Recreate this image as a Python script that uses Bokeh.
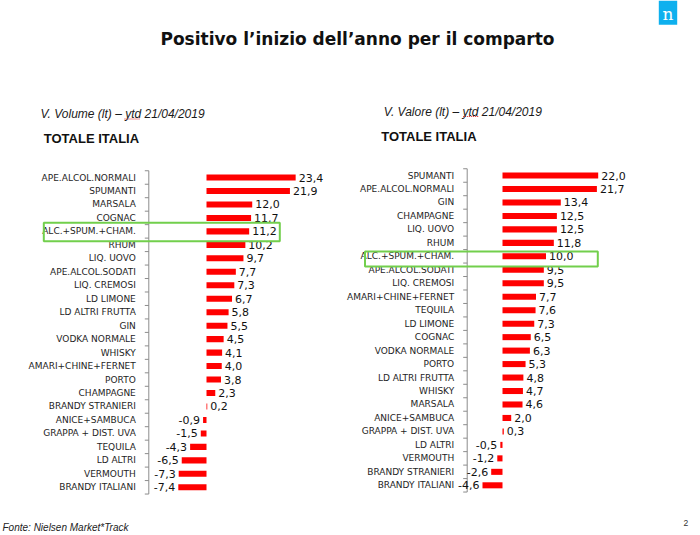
from bokeh.plotting import figure
from bokeh.models import Range1d, ColumnDataSource, Label
from bokeh.core.properties import value
from bokeh.embed import file_html
from bokeh.resources import INLINE

# ---------------- data ----------------
vol_categories = ["APE.ALCOL.NORMALI", "SPUMANTI", "MARSALA", "COGNAC", "ALC.+SPUM.+CHAM.",
                  "RHUM", "LIQ. UOVO", "APE.ALCOL.SODATI", "LIQ. CREMOSI", "LD LIMONE",
                  "LD ALTRI FRUTTA", "GIN", "VODKA NORMALE", "WHISKY", "AMARI+CHINE+FERNET",
                  "PORTO", "CHAMPAGNE", "BRANDY STRANIERI", "ANICE+SAMBUCA",
                  "GRAPPA + DIST. UVA", "TEQUILA", "LD ALTRI", "VERMOUTH", "BRANDY ITALIANI"]
vol_values = [23.4, 21.9, 12.0, 11.7, 11.2, 10.2, 9.7, 7.7, 7.3, 6.7, 5.8, 5.5, 4.5, 4.1,
              4.0, 3.8, 2.3, 0.2, -0.9, -1.5, -4.3, -6.5, -7.3, -7.4]

val_categories = ["SPUMANTI", "APE.ALCOL.NORMALI", "GIN", "CHAMPAGNE", "LIQ. UOVO", "RHUM",
                  "ALC.+SPUM.+CHAM.", "APE.ALCOL.SODATI", "LIQ. CREMOSI", "AMARI+CHINE+FERNET",
                  "TEQUILA", "LD LIMONE", "COGNAC", "VODKA NORMALE", "PORTO", "LD ALTRI FRUTTA",
                  "WHISKY", "MARSALA", "ANICE+SAMBUCA", "GRAPPA + DIST. UVA", "LD ALTRI",
                  "VERMOUTH", "BRANDY STRANIERI", "BRANDY ITALIANI"]
val_values = [22.0, 21.7, 13.4, 12.5, 12.5, 11.8, 10.0, 9.5, 9.5, 7.7, 7.6, 7.3, 6.5, 6.3,
              5.3, 4.8, 4.7, 4.6, 2.0, 0.3, -0.5, -1.2, -2.6, -4.6]

title_text = "Positivo l\u2019inizio dell\u2019anno per il comparto"
vol_subtitle = "V. Volume (lt) \u2013 ytd 21/04/2019"
val_subtitle = "V. Valore (lt) \u2013 ytd 21/04/2019"
panel_heading = "TOTALE ITALIA"
source_note = "Fonte: Nielsen Market*Track"
page_number = "2"

# ---------------- layout / style ----------------
W, H = 700, 535
RED = "#ff0000"
GREEN = "#72cf4c"
AXIS_GREY = "#8c8c8c"
LABEL_FONT = value("DejaVu Sans")

p = figure(width=W, height=H, output_backend="svg", toolbar_location=None,
           x_range=Range1d(0, W), y_range=Range1d(H, 0), min_border=0,
           x_axis_type=None, y_axis_type=None)
p.outline_line_color = None
p.background_fill_color = "white"
p.border_fill_color = "white"

# panel geometry (screen px): zero line, px per unit, first row centre, row step, axis line
panels = {
    "vol": dict(cats=vol_categories, vals=vol_values, zero=206.0, ppu=3.81,
                row0=177.0, step=13.47, axis=148.3),
    "val": dict(cats=val_categories, vals=val_values, zero=502.0, ppu=4.35,
                row0=175.0, step=13.47, axis=466.7),
}

xr, yr = {}, {}
for name, g in panels.items():
    xr[name] = Range1d(-g["zero"] / g["ppu"], (W - g["zero"]) / g["ppu"])
    yr[name] = Range1d((H - g["row0"]) / g["step"], -g["row0"] / g["step"])
p.extra_x_ranges = xr
p.extra_y_ranges = yr

for name, g in panels.items():
    cats, vals = g["cats"], g["vals"]
    n = len(cats)
    idx = list(range(n))
    axis_val = (g["axis"] - g["zero"]) / g["ppu"]
    kw = dict(x_range_name=name, y_range_name=name)

    src = ColumnDataSource(dict(idx=idx, val=vals, cat=cats,
                                lab=[f"{v:.1f}".replace(".", ",") for v in vals]))
    p.hbar(y="idx", left=0, right="val", height=0.45, fill_color=RED,
           line_color=None, source=src, **kw)

    # category axis line + boundary ticks
    p.segment(x0=axis_val, y0=-0.5, x1=axis_val, y1=n - 0.5,
              line_color=AXIS_GREY, line_width=1, **kw)
    bounds = [i - 0.5 for i in range(n + 1)]
    p.segment(x0=axis_val - 4.0 / g["ppu"], y0=bounds, x1=axis_val, y1=bounds,
              line_color=AXIS_GREY, line_width=1, **kw)

    # category labels
    p.text(x=axis_val, y="idx", text="cat", source=src, x_offset=-13,
           text_align="right", text_baseline="middle", text_font=LABEL_FONT,
           text_font_size="9px", text_color="#1e1e1e", **kw)

    # value labels
    pos = ColumnDataSource(dict(
        idx=[i for i, v in zip(idx, vals) if v >= 0],
        val=[v for v in vals if v >= 0],
        lab=[f"{v:.1f}".replace(".", ",") for v in vals if v >= 0]))
    neg = ColumnDataSource(dict(
        idx=[i for i, v in zip(idx, vals) if v < 0],
        val=[v for v in vals if v < 0],
        lab=[f"{v:.1f}".replace(".", ",") for v in vals if v < 0]))
    p.text(x="val", y="idx", text="lab", source=pos, x_offset=3,
           text_align="left", text_baseline="middle", text_font=LABEL_FONT,
           text_font_size="11px", text_color="#111111", **kw)
    p.text(x="val", y="idx", text="lab", source=neg, x_offset=-3,
           text_align="right", text_baseline="middle", text_font=LABEL_FONT,
           text_font_size="11px", text_color="#111111", **kw)

# highlight boxes (page coordinates)
p.quad(left=[43.3, 364.5], right=[279.3, 597.3], top=[222.3, 251.0], bottom=[240.7, 266.0],
       fill_color=None, line_color=GREEN, line_width=2)

# titles and texts
def add_label(x, y, text, size, font="Liberation Sans", style="normal", align="left",
              color="#111111"):
    p.add_layout(Label(x=x, y=y, text=text, text_font=font, text_font_size=size,
                       text_font_style=style, text_align=align, text_baseline="middle",
                       text_color=color))

add_label(357, 38, title_text, "17px", font="DejaVu Sans", style="bold", align="center")
add_label(40, 113, vol_subtitle, "12px", style="italic", color="#1a1a1a")
add_label(383.3, 111, val_subtitle, "12px", style="italic", color="#1a1a1a")
add_label(43.3, 137.7, panel_heading, "13px", style="bold")
add_label(380.7, 136, panel_heading, "13px", style="bold")
add_label(2, 526.5, source_note, "10px", style="italic", color="#222222")
add_label(683, 522, page_number, "8.5px", color="#333333")

# red spell-check squiggles under "ytd"
p.segment(x0=[124.0, 462.7], y0=[118.5, 116.0], x1=[139.3, 477.7], y1=[118.5, 116.0],
          line_color="#e02020", line_width=1, line_dash="1 1")

# logo
p.quad(left=[658.3], right=[676.7], top=[0], bottom=[24.3], fill_color="#0eb0ee",
       line_color=None)
add_label(667.5, 13.5, "n", "17px", font="DejaVu Serif", align="center", color="white")

open("out.html", "w").write(file_html(p, INLINE))
